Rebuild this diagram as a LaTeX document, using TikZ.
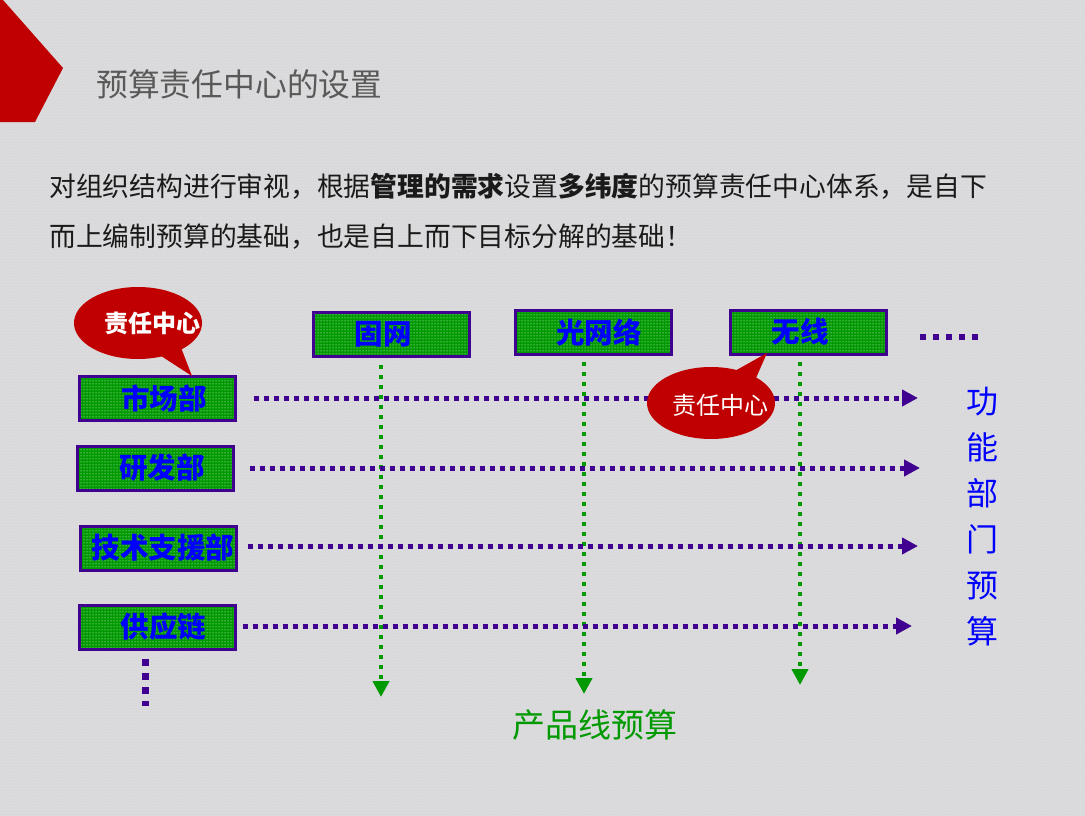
\documentclass[tikz,border=0pt]{standalone}
\usepackage{fontspec}
\setmainfont{Noto Sans CJK SC}
\usetikzlibrary{arrows.meta,patterns,shapes.geometric}
\definecolor{bg}{HTML}{D9D9DB}
\definecolor{bgdot}{HTML}{ECECEC}
\definecolor{redc}{HTML}{C00000}
\definecolor{boxg}{HTML}{009900}
\definecolor{purp}{HTML}{400090}
\definecolor{blu}{HTML}{0000FF}
\definecolor{grn}{HTML}{009900}
\definecolor{titlec}{HTML}{595959}
\definecolor{txtc}{HTML}{1A1A1A}
\tikzset{
  dept/.style={draw=purp, line width=3pt, preaction={fill=boxg}, pattern=dots, pattern color=white,
    minimum width=156pt, minimum height=44pt, inner sep=0pt,
    text=blu, font=\fontsize{28.5}{30}\selectfont\bfseries},
  purparrow/.style={draw=purp, line width=5pt, dash pattern=on 5pt off 5pt,
    -{Triangle[length=16pt,width=16pt]}, purp},
  grnarrow/.style={draw=grn, line width=4pt, dash pattern=on 4pt off 6pt,
    -{Triangle[length=16pt,width=16pt]}, grn},
  bubble/.style={ellipse, fill=redc, minimum width=128pt, minimum height=72pt, inner sep=0pt},
  btext/.style={text=white, font=\fontsize{24}{26}\selectfont},
}
\begin{document}
\begin{tikzpicture}[x=1pt,y=-1pt]
\useasboundingbox (0,0) rectangle (1085,816);
\fill[preaction={fill=bg}, pattern=dots, pattern color=bgdot] (0,0) rectangle (1085,816);
% red pentagon
\fill[redc] (0,0) -- (3,0) -- (63,68) -- (35,122) -- (0,122) -- cycle;
% title
\node[anchor=west, inner sep=0pt, text=titlec, font=\fontsize{31.8}{34}\selectfont] (title) at (96,84) {预算责任中心的设置};
% intro
\node[anchor=west, inner sep=0pt, text=txtc, font=\fontsize{26.8}{30}\selectfont] (l1) at (49,186)
  {对组织结构进行审视，根据\textbf{管理的需求}设置\textbf{多纬度}的预算责任中心体系，是自下};
\node[anchor=west, inner sep=0pt, text=txtc, font=\fontsize{26.8}{30}\selectfont] (l2) at (49,237)
  {而上编制预算的基础，也是自上而下目标分解的基础！};
% department boxes
\node[dept] (mkt) at (157,398) {\kern14pt 市场部};
\node[dept] (rd) at (155,468) {\kern14pt 研发部};
\node[dept] (tech) at (158,548) {\kern10pt 技术支援部};
\node[dept] (sc) at (157,627) {\kern13pt 供应链};
\node[dept] (gw) at (391,334) {固网\kern16pt};
\node[dept] (gwl) at (593,332) {\kern12pt 光网络};
\node[dept] (wx) at (808,332) {无线\kern16pt};
% arrow ends
\coordinate (e1) at (918,398);
\coordinate (e2) at (920,468);
\coordinate (e3) at (918,546);
\coordinate (e4) at (912,626);
\coordinate (g1) at (381,697);
\coordinate (g2) at (584,694);
\coordinate (g3) at (800,685);
% green vertical arrows
\draw[grnarrow] (381,365) -- (g1);
\draw[grnarrow] (584,362) -- (g2);
\draw[grnarrow] (800,362) -- (g3);
% purple horizontal arrows
\draw[purparrow] ([xshift=17pt]mkt.east |- e1) -- (e1);
\draw[purparrow] ([xshift=15pt]rd.east |- e2) -- (e2);
\draw[purparrow] ([xshift=10pt]tech.east |- e3) -- (e3);
\draw[purparrow] ([xshift=6pt]sc.east |- e4) -- (e4);
% ellipsis top right
\coordinate (d1) at (920,337);
\coordinate (d2) at (984,337);
\draw[purp, line width=6pt, dash pattern=on 6pt off 7pt] (d1) -- (d2);
% vertical dots below supply chain
\coordinate (v1) at (145,659);
\coordinate (v2) at (145,706);
\draw[purp, line width=7pt, dash pattern=on 7pt off 7pt] (v1) -- (v2);
% labels
\node[text=blu, align=center, font=\fontsize{32}{46}\selectfont, inner sep=0pt] (fn) at (982,517) {功\\能\\部\\门\\预\\算};
\node[text=grn, font=\fontsize{33}{36}\selectfont, inner sep=0pt] (pl) at (595,725) {产品线预算};
% bubbles
\node[bubble] (b1) at (138,323) {};
\fill[redc] (158,354) -- (192,376) -- (180,345) -- cycle;
\node[btext, font=\fontsize{24}{26}\selectfont\bfseries] (b1t) at (152,323) {责任中心};
\node[bubble] (b2) at (711,403) {};
\fill[redc] (733,372) -- (767,353) -- (756,378) -- cycle;
\node[btext] (b2t) at (720,405) {责任中心};
\end{tikzpicture}
\end{document}
